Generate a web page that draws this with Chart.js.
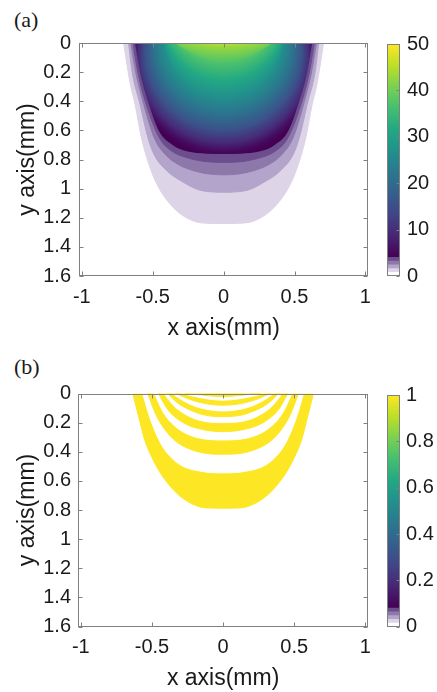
<!DOCTYPE html>
<html>
<head>
<meta charset="utf-8">
<script src="https://cdn.jsdelivr.net/npm/chart.js@4.4.1/dist/chart.umd.min.js"></script>
<style>
  body { margin: 0; background: #fff; }
  #wrap { position: relative; width: 437px; height: 692px; }
  canvas { position: absolute; }
  .tag { position: absolute; font: 22px "Liberation Serif", "Times New Roman", serif; color: #1a1a1a; line-height: 22px; }
</style>
</head>
<body>
<div id="wrap">
  <div class="tag" style="left:14px;top:9px">(a)</div>
  <canvas id="mainA" width="380" height="345" style="left:0;top:0"></canvas>
  <canvas id="barA" width="57" height="345" style="left:380px;top:0"></canvas>
  <div class="tag" style="left:14px;top:356px">(b)</div>
  <canvas id="mainB" width="380" height="347" style="left:0;top:345px"></canvas>
  <canvas id="barB" width="57" height="347" style="left:380px;top:345px"></canvas>
</div>
<script>
// axis ticks
const xTicks = [-1, -0.5, 0, 0.5, 1];
const yTicks = [0, 0.2, 0.4, 0.6, 0.8, 1, 1.2, 1.4, 1.6];
const barTicksA = [0, 10, 20, 30, 40, 50];
const barTicksB = [0, 0.2, 0.4, 0.6, 0.8, 1];

// colour bar steps below the continuous ramp
const barStepsA = [0.8, 1.6, 2.4, 3.2, 4];
const barStepsB = [0.016, 0.032, 0.048, 0.064, 0.08];

// (a) band edges, [half width, depth] in mm, surface down to the centre line
const edgeA08 = [[0.705, 0], [0.68, 0.16], [0.655, 0.3], [0.625, 0.42], [0.58, 0.65], [0.51, 0.88], [0.454, 1.0], [0.374, 1.11], [0.295, 1.18], [0.205, 1.225], [0.11, 1.238], [0, 1.24]];
const edgeA16 = [[0.671, 0], [0.645, 0.2], [0.59, 0.42], [0.534, 0.65], [0.49, 0.767], [0.397, 0.88], [0.295, 0.95], [0.18, 1.007], [0.09, 1.022], [0, 1.025]];
const edgeA24 = [[0.655, 0], [0.62, 0.2], [0.564, 0.42], [0.49, 0.65], [0.41, 0.767], [0.317, 0.836], [0.2, 0.88], [0.1, 0.9], [0, 0.905]];
const edgeA32 = [[0.64, 0], [0.605, 0.2], [0.546, 0.42], [0.454, 0.65], [0.363, 0.744], [0.25, 0.79], [0.12, 0.815], [0, 0.82]];
const edgeA40 = [[0.625, 0], [0.59, 0.2], [0.527, 0.42], [0.454, 0.607], [0.363, 0.698], [0.26, 0.744], [0.12, 0.76], [0, 0.762]];

// (a) values along the centre line inside the 4.0 edge
const centreDepthA = [0, 0.05, 0.15, 0.27, 0.38, 0.5, 0.61, 0.7, 0.755];
const centreValueA = [50, 43, 37, 31.5, 27, 21.5, 15.5, 9.5, 5.5];

// (b) band edges, outermost first, and the value inside each edge
const bandValuesB = [1, 0, 1, 0, 1, 0, 1, 0, 1, 0, 1];
const edgeB1 = [[0.635, 0], [0.586, 0.19], [0.551, 0.32], [0.5, 0.44], [0.44, 0.548], [0.348, 0.663], [0.268, 0.73], [0.17, 0.777], [0.08, 0.787], [0, 0.788]];
const edgeB2 = [[0.565, 0], [0.52, 0.15], [0.46, 0.3], [0.4, 0.4], [0.3, 0.49], [0.15, 0.535], [0, 0.545]];
const edgeB3 = [[0.53, 0], [0.47, 0.15], [0.4, 0.26], [0.33, 0.33], [0.25, 0.375], [0.13, 0.41], [0, 0.417]];
const edgeB4 = [[0.483, 0], [0.42, 0.13], [0.36, 0.205], [0.28, 0.265], [0.17, 0.305], [0, 0.319]];
const edgeB5 = [[0.455, 0], [0.39, 0.11], [0.32, 0.175], [0.24, 0.22], [0.12, 0.252], [0, 0.262]];
const edgeB6 = [[0.415, 0], [0.35, 0.08], [0.27, 0.14], [0.16, 0.185], [0, 0.2]];
const edgeB7 = [[0.39, 0], [0.32, 0.065], [0.24, 0.11], [0.13, 0.148], [0, 0.159]];
const edgeB8 = [[0.355, 0], [0.28, 0.05], [0.19, 0.09], [0.09, 0.113], [0, 0.12]];
const edgeB9 = [[0.33, 0], [0.25, 0.035], [0.16, 0.062], [0.07, 0.077], [0, 0.08]];
const edgeB10 = [[0.29, 0], [0.2, 0.02], [0.1, 0.038], [0, 0.046]];
const edgeB11 = [[0.26, 0], [0.15, 0.01], [0, 0.022]];

// colours
const viridis = ['#440154', '#482475', '#414487', '#355f8d', '#2a788e', '#21918c', '#22a884', '#44bf70', '#7ad151', '#bddf26', '#fde725'];
const lightSteps = ['#ffffff', '#ddd4e7', '#b3a4cb', '#8e78aa', '#6c4e8e'];
const frameColour = '#808080';
const textColour = '#1a1a1a';

Chart.defaults.font.family = '"Liberation Sans", Arial, sans-serif';
Chart.defaults.font.size = 20;
Chart.defaults.color = textColour;

function hexRgb(h) {
  return [1, 3, 5].map(i => parseInt(h.slice(i, i + 2), 16));
}

// f in [0, 1] -> viridis colour
function ramp(f) {
  f = Math.min(Math.max(f, 0), 1) * (viridis.length - 1);
  const i = Math.min(Math.floor(f), viridis.length - 2);
  const a = hexRgb(viridis[i]), b = hexRgb(viridis[i + 1]);
  const t = f - i;
  const c = a.map((v, k) => Math.round(v + (b[k] - v) * t));
  return `rgb(${c[0]},${c[1]},${c[2]})`;
}

const rampLowA = barStepsA[barStepsA.length - 1];
const colourA = v => ramp((v - rampLowA) / (50 - rampLowA));

// edge profile -> closed U outline, left wall, bottom, right wall
function edgePoints(edge) {
  const left = edge.map(([w, d]) => ({x: -w, y: d}));
  const right = edge.slice(0, -1).reverse().map(([w, d]) => ({x: w, y: d}));
  return left.concat(right);
}

function band(edge, colour) {
  return {
    data: edgePoints(edge),
    fill: 'shape',
    backgroundColor: colour,
    borderColor: colour,
    borderWidth: 1,
    pointRadius: 0,
    cubicInterpolationMode: 'monotone'
  };
}

// Radial ramp between an outer and an inner circle on x = 0 (centre depth, radius in mm).
// The gradient starts on the outer circle so the larger circles never sweep over the core.
// Upper pieces are clear outside their outer circle and sit on top of the lower ones.
function ringFill(cOut, rOut, cIn, rIn, upper) {
  const dOut = cOut + rOut, dIn = cIn + rIn;
  return ctx => {
    const chart = ctx.chart;
    const xs = chart.scales.x, ys = chart.scales.y;
    if (!xs || !ys || !chart.chartArea) return 'transparent';
    const k = xs.getPixelForValue(1) - xs.getPixelForValue(0);
    const cx = xs.getPixelForValue(0);
    const g = chart.ctx.createRadialGradient(cx, ys.getPixelForValue(cOut), rOut * k, cx, ys.getPixelForValue(cIn), rIn * k);
    const stops = [];
    centreDepthA.forEach((d, i) => {
      if (d <= dOut + 1e-6 && d >= dIn - 1e-6) stops.push([(dOut - d) / (dOut - dIn), colourA(centreValueA[i])]);
    });
    stops.sort((p, q) => p[0] - q[0]);
    if (upper) {
      g.addColorStop(0, 'rgba(255,255,255,0)');
      g.addColorStop(0, stops[0][1]);
    } else {
      g.addColorStop(0, colourA(rampLowA));
    }
    stops.forEach(([t, c]) => g.addColorStop(Math.min(Math.max(t, 0), 1), c));
    return g;
  };
}

function shade(edge, fillFn) {
  return {
    data: edgePoints(edge),
    fill: 'shape',
    backgroundColor: fillFn,
    borderColor: 'transparent',
    borderWidth: 0,
    pointRadius: 0,
    cubicInterpolationMode: 'monotone'
  };
}

// axes box with inward ticks
const framePlugin = {
  id: 'frame',
  afterDraw(chart, args, o) {
    const {ctx, chartArea: a, scales} = chart;
    const L = Math.round(a.left) + 0.5, R = Math.round(a.right) - 0.5;
    const T = Math.round(a.top) + 0.5, B = Math.round(a.bottom) - 0.5;
    ctx.save();
    ctx.strokeStyle = o.color;
    ctx.lineWidth = 1;
    ctx.strokeRect(L, T, R - L, B - T);
    ctx.beginPath();
    if (o.xTicks) {
      for (const t of scales.x.ticks) {
        const p = Math.round(scales.x.getPixelForValue(t.value)) + 0.5;
        ctx.moveTo(p, B); ctx.lineTo(p, B - o.len);
        ctx.moveTo(p, T); ctx.lineTo(p, T + o.len);
      }
    }
    for (const t of scales.y.ticks) {
      const p = Math.round(scales.y.getPixelForValue(t.value)) + 0.5;
      if (o.left) { ctx.moveTo(L, p); ctx.lineTo(L + o.len, p); }
      ctx.moveTo(R, p); ctx.lineTo(R - o.len, p);
    }
    ctx.stroke();
    ctx.restore();
  }
};

const noGrid = {display: false, drawTicks: false};

function mainChart(id, datasets, g) {
  return new Chart(document.getElementById(id), {
    type: 'line',
    data: {datasets},
    options: {
      responsive: false,
      animation: false,
      events: [],
      layout: {padding: {top: g.top, right: g.right, left: 0, bottom: 0}},
      plugins: {
        legend: {display: false},
        tooltip: {enabled: false},
        frame: {color: frameColour, len: 4, xTicks: true, left: true}
      },
      scales: {
        x: {
          type: 'linear', min: -1.02, max: 1.02,
          afterBuildTicks: s => { s.ticks = xTicks.map(value => ({value})); },
          afterFit: s => { s.height = g.xHeight; },
          grid: noGrid,
          border: {display: false},
          ticks: {padding: g.xPad, autoSkip: false, maxRotation: 0, callback: v => String(v)},
          title: {display: true, text: 'x axis(mm)', font: {size: 23}, padding: {top: 0, bottom: g.xTitlePad}}
        },
        y: {
          type: 'linear', reverse: true, min: 0, max: 1.6,
          afterBuildTicks: s => { s.ticks = yTicks.map(value => ({value})); },
          afterFit: s => { s.width = g.yWidth; },
          grid: noGrid,
          border: {display: false},
          ticks: {padding: g.yPad, autoSkip: false, callback: v => String(v)},
          title: {display: true, text: 'y axis(mm)', font: {size: 23}, padding: {top: 14, bottom: 0}}
        }
      }
    },
    plugins: [framePlugin]
  });
}

function colourBar(id, steps, max, ticks, g) {
  const datasets = steps.map((hi, i) => ({
    data: [[i === 0 ? 0 : steps[i - 1], hi]],
    backgroundColor: lightSteps[i]
  }));
  const lo = steps[steps.length - 1];
  datasets.push({
    data: [[lo, max]],
    backgroundColor: ctx => {
      const chart = ctx.chart, ys = chart.scales.y;
      if (!ys || !chart.chartArea) return 'transparent';
      const grad = chart.ctx.createLinearGradient(0, ys.getPixelForValue(lo), 0, ys.getPixelForValue(max));
      viridis.forEach((c, i) => grad.addColorStop(i / (viridis.length - 1), c));
      return grad;
    }
  });
  return new Chart(document.getElementById(id), {
    type: 'bar',
    data: {labels: [''], datasets},
    options: {
      responsive: false,
      animation: false,
      events: [],
      layout: {padding: {top: g.top, bottom: g.bottom, left: 7, right: 0}},
      datasets: {bar: {barPercentage: 1, categoryPercentage: 1, grouped: false, borderWidth: 0}},
      plugins: {
        legend: {display: false},
        tooltip: {enabled: false},
        frame: {color: frameColour, len: 3, xTicks: false, left: false}
      },
      scales: {
        x: {display: false},
        y: {
          position: 'right', min: 0, max,
          afterBuildTicks: s => { s.ticks = ticks.map(value => ({value})); },
          afterFit: s => { s.width = 37; },
          grid: noGrid,
          border: {display: false},
          ticks: {padding: g.pad, autoSkip: false, callback: v => String(v)}
        }
      }
    },
    plugins: [framePlugin]
  });
}

// (a): continuous core as three radial pieces over the stepped outer bands
const datasetsA = [
  shade(edgeA40, ringFill(-0.29, 0.44, -1.25, 1.25, true)),
  shade(edgeA40, ringFill(-0.04, 0.42, -0.45, 0.45, true)),
  shade(edgeA40, ringFill(0.135, 0.655, -0.04, 0.42, false)),
  band(edgeA32, lightSteps[4]),
  band(edgeA24, lightSteps[3]),
  band(edgeA16, lightSteps[2]),
  band(edgeA08, lightSteps[1])
];
mainChart('mainA', datasetsA, {top: 43, right: 3, xHeight: 69, yWidth: 79, xPad: 9, xTitlePad: 3, yPad: 8});
colourBar('barA', barStepsA, 50, barTicksA, {top: 44, bottom: 69, pad: 7});

// (b): nested bands, innermost drawn last
const edgesB = [edgeB1, edgeB2, edgeB3, edgeB4, edgeB5, edgeB6, edgeB7, edgeB8, edgeB9, edgeB10, edgeB11];
const datasetsB = edgesB.map((e, i) => band(e, bandValuesB[i] ? viridis[viridis.length - 1] : '#ffffff')).reverse();
mainChart('mainB', datasetsB, {top: 48.5, right: 4, xHeight: 65.5, yWidth: 78, xPad: 9, xTitlePad: 0, yPad: 7});
colourBar('barB', barStepsB, 1, barTicksB, {top: 50, bottom: 65.3, pad: 6});
</script>
</body>
</html>
